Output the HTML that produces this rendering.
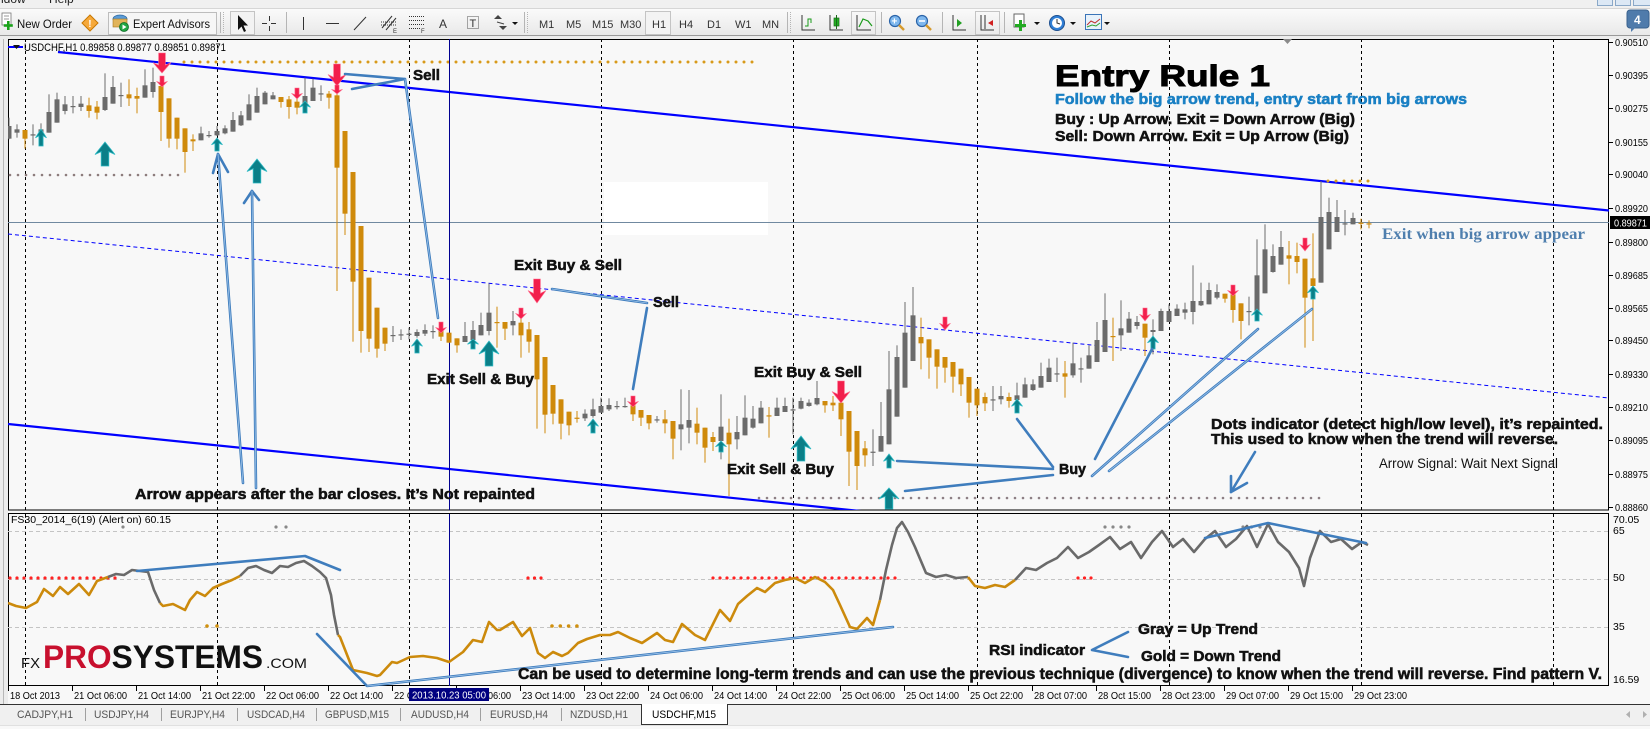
<!DOCTYPE html>
<html><head><meta charset="utf-8"><title>USDCHF H1 - Entry Rule 1</title>
<style>
html,body{margin:0;padding:0;background:#f8f8f8;}
body{width:1650px;height:729px;overflow:hidden;}
svg{display:block;}
text{font-family:"Liberation Sans",Arial,sans-serif;}
.ann{font-weight:bold;fill:#111;stroke:#111;stroke-width:0.55px;font-size:15px;}
.ax{font-size:10.5px;fill:#000;}
.tf{font-size:11px;fill:#333;}
.tab{font-size:11px;fill:#555;}
.co{stroke:#3f7dbd;stroke-width:2.6;fill:none;stroke-linecap:round;stroke-linejoin:round;}
.coh{stroke:#9cc3ea;stroke-width:0.8;fill:none;stroke-linecap:round;}
.grid{stroke:#000;stroke-width:1;stroke-dasharray:3 3;}
</style></head>
<body>
<svg id="s" width="1650" height="729" viewBox="0 0 1650 729" xmlns="http://www.w3.org/2000/svg">
<defs>
<linearGradient id="tb" x1="0" y1="0" x2="0" y2="1"><stop offset="0" stop-color="#fbfbfb"/><stop offset="1" stop-color="#e9e9e9"/></linearGradient>
<clipPath id="mainclip"><rect x="8" y="39" width="1601" height="471"/></clipPath>
<clipPath id="indclip"><rect x="8" y="514" width="1601" height="172"/></clipPath>
</defs>

<!-- ===== top menu strip + toolbar ===== -->
<rect x="0" y="0" width="1650" height="8" fill="#f0f0f0"/>
<text x="-3" y="3" font-size="12" fill="#222">ndow</text>
<text x="49" y="3" font-size="12" fill="#222">Help</text>
<rect x="0" y="8" width="1650" height="27" fill="url(#tb)"/>
<line x1="0" y1="8.5" x2="1650" y2="8.5" stroke="#d6d6d6"/>
<line x1="0" y1="35.5" x2="1650" y2="35.5" stroke="#9a9a9a"/>
<rect x="0" y="36" width="1650" height="3" fill="#ececec"/>

<!-- New Order -->
<rect x="2" y="13" width="9" height="12" fill="#fff" stroke="#777" stroke-width="0.8"/>
<line x1="4" y1="16" x2="9" y2="16" stroke="#999"/><line x1="4" y1="19" x2="9" y2="19" stroke="#999"/>
<rect x="7" y="21" width="2.6" height="9" fill="#1aa31a"/><rect x="3.8" y="24.2" width="9" height="2.6" fill="#1aa31a"/>
<text x="17" y="28" font-size="12" fill="#111" textLength="55" lengthAdjust="spacingAndGlyphs">New Order</text>
<polygon points="90,15 98,23 90,31 82,23" fill="#f6a93b" stroke="#c97800" stroke-width="1"/>
<text x="88.3" y="27" font-size="10" font-weight="bold" fill="#fff">!</text>
<!-- Expert Advisors -->
<rect x="108.5" y="12.5" width="108" height="22" fill="#f6f6f6" stroke="#bdbdbd"/>
<ellipse cx="120" cy="19" rx="7" ry="4" fill="#5b9bd5" stroke="#2d6aa5" stroke-width="0.8"/>
<rect x="113" y="19" width="14" height="8" fill="#e1b45a" stroke="#a77a20" stroke-width="0.6"/>
<circle cx="124" cy="27" r="4.5" fill="#21a542" stroke="#0d6d27" stroke-width="0.8"/>
<polygon points="122.5,24.5 122.5,29.5 126.5,27" fill="#fff"/>
<text x="133" y="28" font-size="12" fill="#111" textLength="77" lengthAdjust="spacingAndGlyphs">Expert Advisors</text>
<!-- separators -->
<g stroke="#b5b5b5"><line x1="220.5" y1="12" x2="220.5" y2="33"/><line x1="223.5" y1="12" x2="223.5" y2="33" stroke-dasharray="1 1"/>
<line x1="286.5" y1="12" x2="286.5" y2="33"/>
<line x1="524.5" y1="12" x2="524.5" y2="33"/><line x1="527.5" y1="12" x2="527.5" y2="33" stroke-dasharray="1 1"/>
<line x1="787.5" y1="12" x2="787.5" y2="33"/><line x1="790.5" y1="12" x2="790.5" y2="33" stroke-dasharray="1 1"/>
<line x1="881.5" y1="12" x2="881.5" y2="33"/><line x1="942.5" y1="12" x2="942.5" y2="33"/><line x1="1004.5" y1="12" x2="1004.5" y2="33"/></g>
<!-- cursor / drawing tools -->
<rect x="230.5" y="11.5" width="24" height="23" fill="#f3f3f3" stroke="#c4c4c4"/>
<polygon points="238,15 238,30 241.5,26.5 244,32 246,31 243.5,25.5 248,25.5" fill="#111"/>
<g stroke="#333" stroke-width="1"><line x1="262" y1="23.5" x2="267" y2="23.5"/><line x1="271" y1="23.5" x2="276" y2="23.5"/><line x1="269.5" y1="16" x2="269.5" y2="21"/><line x1="269.5" y1="26" x2="269.5" y2="31"/>
<line x1="303.5" y1="17" x2="303.5" y2="30"/><line x1="326" y1="23.5" x2="339" y2="23.5"/><line x1="354" y1="30" x2="366" y2="17"/>
<line x1="382" y1="28" x2="392" y2="16" /><line x1="386" y1="30" x2="396" y2="18"/><line x1="381" y1="22" x2="396" y2="22" stroke-dasharray="1 1"/><line x1="381" y1="25" x2="396" y2="25" stroke-dasharray="1 1"/>
<line x1="409" y1="16.5" x2="425" y2="16.5" stroke-dasharray="1 1"/><line x1="409" y1="20.5" x2="425" y2="20.5" stroke-dasharray="1 1"/><line x1="409" y1="24.5" x2="425" y2="24.5" stroke-dasharray="1 1"/><line x1="409" y1="28.5" x2="420" y2="28.5" stroke-dasharray="1 1"/></g>
<text x="393" y="33" font-size="6" fill="#333">E</text><text x="421" y="33" font-size="6" fill="#333">F</text>
<text x="439" y="28" font-size="12" fill="#333">A</text>
<rect x="467.5" y="16.5" width="11" height="12" fill="none" stroke="#555" stroke-dasharray="1 1"/><text x="469.5" y="27" font-size="11" fill="#333">T</text>
<polygon points="494,19 498,15 502,19" fill="#444"/><polygon points="499,26 503,30 507,26" fill="#444"/><line x1="497" y1="22" x2="504" y2="24" stroke="#444"/>
<polygon points="512,22 518,22 515,25" fill="#111"/>
<!-- timeframes -->
<text class="tf" x="539" y="28">M1</text><text class="tf" x="566" y="28">M5</text><text class="tf" x="592" y="28">M15</text><text class="tf" x="620" y="28">M30</text>
<rect x="645.5" y="11.5" width="25" height="23" fill="#f3f3f3" stroke="#c4c4c4"/>
<text class="tf" x="652" y="28">H1</text><text class="tf" x="679" y="28">H4</text><text class="tf" x="707" y="28">D1</text><text class="tf" x="735" y="28">W1</text><text class="tf" x="762" y="28">MN</text>
<!-- chart type icons -->
<g stroke="#333" stroke-width="1" fill="none"><polyline points="802,15 802,30 815,30"/><polyline points="830,15 830,30 843,30"/><polyline points="857,15 857,30 871,30"/></g>
<polyline points="805,26 808,26 808,19 811,19 811,23" stroke="#1a9a1a" fill="none"/>
<rect x="834" y="18" width="5" height="8" fill="#22b022" stroke="#1a6a1a" stroke-width="0.7"/><line x1="836.5" y1="15" x2="836.5" y2="29" stroke="#1a6a1a"/>
<rect x="851.5" y="11.5" width="24" height="23" fill="none" stroke="#c4c4c4"/>
<polyline points="859,27 863,19 868,21 872,26" stroke="#1a9a1a" fill="none" stroke-width="1.2"/>
<!-- zoom -->
<circle cx="895" cy="21" r="5.5" fill="#7fb8ee" stroke="#2a63a8" stroke-width="1.2"/><line x1="899" y1="25" x2="904" y2="30" stroke="#d69a2c" stroke-width="2.5"/><text x="891.5" y="24.5" font-size="10" font-weight="bold" fill="#fff">+</text>
<circle cx="922" cy="21" r="5.5" fill="#7fb8ee" stroke="#2a63a8" stroke-width="1.2"/><line x1="926" y1="25" x2="931" y2="30" stroke="#d69a2c" stroke-width="2.5"/><line x1="919" y1="21" x2="925" y2="21" stroke="#fff" stroke-width="1.6"/>
<g stroke="#333" fill="none"><polyline points="953,15 953,30 966,30"/><polyline points="981,15 981,30 994,30"/></g>
<polygon points="957,19 962,23 957,27" fill="#22a022"/>
<rect x="975.5" y="11.5" width="24" height="23" fill="none" stroke="#c4c4c4"/>
<line x1="985" y1="15" x2="985" y2="29" stroke="#333"/><polygon points="993,20 988,23 993,26" fill="#d02020"/>
<rect x="1014" y="14" width="10" height="13" fill="#fff" stroke="#666"/><rect x="1019" y="20" width="3" height="11" fill="#22aa22"/><rect x="1015" y="24" width="11" height="3" fill="#22aa22"/>
<polygon points="1034,22 1040,22 1037,25" fill="#111"/>
<circle cx="1057" cy="23" r="7.5" fill="#2f7fd6" stroke="#1d4f8f"/><circle cx="1057" cy="23" r="5" fill="#fff"/><polyline points="1057,19 1057,23 1060,24" stroke="#333" fill="none"/>
<polygon points="1070,22 1076,22 1073,25" fill="#111"/>
<rect x="1085.5" y="14.5" width="16" height="15" fill="#e8f2fb" stroke="#3a74b8"/><polyline points="1087,25 1091,21 1095,23 1100,19" stroke="#c03030" fill="none"/><polyline points="1087,27 1092,25 1096,26 1100,23" stroke="#30a030" fill="none"/>
<polygon points="1104,22 1110,22 1107,25" fill="#111"/>
<!-- top right -->
<rect x="1597.5" y="-3.5" width="15" height="9" fill="#dce8f5" stroke="#8aa8c8"/><rect x="1615.5" y="-3.5" width="15" height="9" fill="#dce8f5" stroke="#8aa8c8"/><rect x="1633.5" y="-3.5" width="17" height="9" fill="#dce8f5" stroke="#8aa8c8"/>
<rect x="1627" y="10" width="22" height="18" rx="3" fill="#4f7bab" stroke="#3a628e"/>
<polygon points="1631,27 1631,32 1636,27" fill="#4f7bab"/>
<text x="1634" y="24" font-size="12" font-weight="bold" fill="#fff">4</text>

<!-- ===== window frame ===== -->
<rect x="0" y="39" width="8" height="667" fill="#ececec"/>
<line x1="3.5" y1="39" x2="3.5" y2="704" stroke="#b8b8b8"/>

<!-- ===== main chart ===== -->
<rect x="8.5" y="39.5" width="1600" height="470.5" fill="#f8f8f8" stroke="#000"/>
<rect x="8.5" y="513.5" width="1600" height="172" fill="#f8f8f8" stroke="#000"/>

<g clip-path="url(#mainclip)">
<g class="grid">
<line x1="25.5" y1="39" x2="25.5" y2="510"/><line x1="217.5" y1="39" x2="217.5" y2="510"/><line x1="409.5" y1="39" x2="409.5" y2="510"/><line x1="601.5" y1="39" x2="601.5" y2="510"/><line x1="793.5" y1="39" x2="793.5" y2="510"/><line x1="977.5" y1="39" x2="977.5" y2="510"/><line x1="1169.5" y1="39" x2="1169.5" y2="510"/><line x1="1361.5" y1="39" x2="1361.5" y2="510"/><line x1="1553.5" y1="39" x2="1553.5" y2="510"/>
</g>
<!-- channel -->
<line x1="58" y1="52" x2="1609" y2="210.5" stroke="#0000ff" stroke-width="2.2"/>
<line x1="8" y1="424" x2="870" y2="512" stroke="#0000ff" stroke-width="2.2"/>
<line x1="8" y1="234" x2="1609" y2="398" stroke="#0000ff" stroke-width="1" stroke-dasharray="4 3"/>
<line x1="8" y1="47" x2="23" y2="47" stroke="#0000ff" stroke-width="2"/>
<polygon points="13,45 20,45 16.5,49" fill="#111"/>
<!-- dotted levels -->
<line x1="184" y1="62" x2="756" y2="62" stroke="#d89a1a" stroke-width="3" stroke-dasharray="0 8" stroke-linecap="round"/>
<line x1="10" y1="175" x2="180" y2="175" stroke="#8d7c7c" stroke-width="2.6" stroke-dasharray="0 8" stroke-linecap="round"/>
<line x1="759" y1="498" x2="1323" y2="498" stroke="#8d7f84" stroke-width="2.6" stroke-dasharray="0 8" stroke-linecap="round"/>
<line x1="1328" y1="181" x2="1371" y2="181" stroke="#d89a1a" stroke-width="3" stroke-dasharray="0 8" stroke-linecap="round"/>
<!-- white box -->
<rect x="604" y="182" width="164" height="53" fill="#ffffff"/>
<!-- current price line -->
<line x1="8" y1="222.5" x2="1609" y2="222.5" stroke="#7089a0" stroke-width="1"/>
<!-- navy vertical -->
<line x1="449.5" y1="39" x2="449.5" y2="510" stroke="#000090" stroke-width="1"/>
<g id="candles"></g>
<g id="arrows"></g>
<polygon points="1283,39 1292,39 1287.5,44" fill="#8a8a8a"/>
</g>

<!-- title -->
<text x="24" y="51" font-size="11" fill="#000" textLength="202" lengthAdjust="spacingAndGlyphs">USDCHF,H1  0.89858 0.89877 0.89851 0.89871</text>

<!-- callouts main -->
<g>
<polyline class="co" points="218,154 243,483"/><polyline class="co" points="213,173 218,154 228,172"/>
<polyline class="co" points="252,191 256,488"/><polyline class="co" points="244,203 252,191 259,200"/>
<polyline class="co" points="345,74 405,79 352,89"/><polyline class="co" points="405,79 438,318"/>
<polyline class="co" points="552,289 647,303"/><polyline class="co" points="647,308 633,389"/>
<polyline class="co" points="897,461 1053,469"/><polyline class="co" points="905,491 1053,475"/><polyline class="co" points="1017,419 1053,467"/>
<polyline class="co" points="1095,459 1152,349"/><polyline class="co" points="1092,476 1258,329"/><polyline class="co" points="1109,471 1312,309"/>
<polyline class="co" points="1255,452 1231,492"/><polyline class="co" points="1231,476 1231,492 1247,483"/>
</g>
<g>
<polyline class="coh" points="218,154 243,483"/><polyline class="coh" points="252,191 256,488"/><polyline class="coh" points="405,79 438,318"/>
<polyline class="coh" points="552,289 647,303"/><polyline class="coh" points="1092,476 1258,329"/><polyline class="coh" points="1109,471 1312,309"/>
</g>

<!-- annotation texts main -->
<text class="ann" x="413" y="80" textLength="27" lengthAdjust="spacingAndGlyphs">Sell</text>
<text class="ann" x="514" y="270" textLength="108" lengthAdjust="spacingAndGlyphs">Exit Buy &amp; Sell</text>
<text class="ann" x="653" y="307" textLength="26" lengthAdjust="spacingAndGlyphs">Sell</text>
<text class="ann" x="427" y="384" textLength="107" lengthAdjust="spacingAndGlyphs">Exit Sell &amp; Buy</text>
<text class="ann" x="754" y="377" textLength="108" lengthAdjust="spacingAndGlyphs">Exit Buy &amp; Sell</text>
<text class="ann" x="727" y="474" textLength="107" lengthAdjust="spacingAndGlyphs">Exit Sell &amp; Buy</text>
<text class="ann" x="135" y="499" textLength="400" lengthAdjust="spacingAndGlyphs">Arrow appears after the bar closes. It’s Not repainted</text>
<text class="ann" x="1059" y="474" textLength="27" lengthAdjust="spacingAndGlyphs">Buy</text>
<text x="1055" y="86" font-size="30" font-weight="bold" fill="#000" stroke="#000" stroke-width="1" textLength="215" lengthAdjust="spacingAndGlyphs">Entry Rule  1</text>
<text class="ann" x="1055" y="104" style="fill:#1a80c4;stroke:#1a80c4" textLength="412" lengthAdjust="spacingAndGlyphs">Follow the big arrow trend, entry start from big arrows</text>
<text class="ann" x="1055" y="124" textLength="300" lengthAdjust="spacingAndGlyphs">Buy : Up Arrow. Exit = Down Arrow (Big)</text>
<text class="ann" x="1055" y="141" textLength="294" lengthAdjust="spacingAndGlyphs">Sell: Down Arrow. Exit = Up Arrow (Big)</text>
<text x="1382" y="239" font-family="Liberation Serif,serif" font-size="16" font-weight="bold" fill="#4f7fae" textLength="203" lengthAdjust="spacingAndGlyphs" style="font-family:'Liberation Serif',serif">Exit when big arrow appear</text>
<text class="ann" x="1211" y="429" textLength="392" lengthAdjust="spacingAndGlyphs">Dots indicator (detect high/low level), it’s repainted.</text>
<text class="ann" x="1211" y="444" textLength="347" lengthAdjust="spacingAndGlyphs">This used to know when the trend will reverse.</text>
<text x="1379" y="468" font-size="13.5" fill="#111" textLength="179" lengthAdjust="spacingAndGlyphs">Arrow Signal: Wait Next Signal</text>

<!-- price axis -->
<g class="ax">
<text x="1615" y="46" textLength="33" lengthAdjust="spacingAndGlyphs">0.90510</text>
<text x="1615" y="79" textLength="33" lengthAdjust="spacingAndGlyphs">0.90395</text>
<text x="1615" y="112" textLength="33" lengthAdjust="spacingAndGlyphs">0.90275</text>
<text x="1615" y="146" textLength="33" lengthAdjust="spacingAndGlyphs">0.90155</text>
<text x="1615" y="178" textLength="33" lengthAdjust="spacingAndGlyphs">0.90040</text>
<text x="1615" y="212" textLength="33" lengthAdjust="spacingAndGlyphs">0.89920</text>
<text x="1615" y="246" textLength="33" lengthAdjust="spacingAndGlyphs">0.89800</text>
<text x="1615" y="279" textLength="33" lengthAdjust="spacingAndGlyphs">0.89685</text>
<text x="1615" y="312" textLength="33" lengthAdjust="spacingAndGlyphs">0.89565</text>
<text x="1615" y="344" textLength="33" lengthAdjust="spacingAndGlyphs">0.89450</text>
<text x="1615" y="378" textLength="33" lengthAdjust="spacingAndGlyphs">0.89330</text>
<text x="1615" y="411" textLength="33" lengthAdjust="spacingAndGlyphs">0.89210</text>
<text x="1615" y="444" textLength="33" lengthAdjust="spacingAndGlyphs">0.89095</text>
<text x="1615" y="478" textLength="33" lengthAdjust="spacingAndGlyphs">0.88975</text>
<text x="1615" y="511" textLength="33" lengthAdjust="spacingAndGlyphs">0.88860</text>
</g>
<g stroke="#000"><line x1="1609" y1="42.5" x2="1613" y2="42.5"/><line x1="1609" y1="75.5" x2="1613" y2="75.5"/><line x1="1609" y1="108.5" x2="1613" y2="108.5"/><line x1="1609" y1="142.5" x2="1613" y2="142.5"/><line x1="1609" y1="174.5" x2="1613" y2="174.5"/><line x1="1609" y1="208.5" x2="1613" y2="208.5"/><line x1="1609" y1="242.5" x2="1613" y2="242.5"/><line x1="1609" y1="275.5" x2="1613" y2="275.5"/><line x1="1609" y1="308.5" x2="1613" y2="308.5"/><line x1="1609" y1="340.5" x2="1613" y2="340.5"/><line x1="1609" y1="374.5" x2="1613" y2="374.5"/><line x1="1609" y1="407.5" x2="1613" y2="407.5"/><line x1="1609" y1="440.5" x2="1613" y2="440.5"/><line x1="1609" y1="474.5" x2="1613" y2="474.5"/><line x1="1609" y1="507.5" x2="1613" y2="507.5"/></g>
<rect x="1610" y="216" width="40" height="13" fill="#000"/>
<text x="1614" y="226.5" font-size="10.5" fill="#fff" textLength="33" lengthAdjust="spacingAndGlyphs">0.89871</text>

<!-- ===== indicator panel ===== -->
<g clip-path="url(#indclip)">
<g stroke="#c4c4c4" stroke-dasharray="4 3"><line x1="8" y1="531.5" x2="1609" y2="531.5"/><line x1="8" y1="579.5" x2="1609" y2="579.5"/><line x1="8" y1="627.5" x2="1609" y2="627.5"/></g>
<g class="grid">
<line x1="25.5" y1="514" x2="25.5" y2="686"/><line x1="217.5" y1="514" x2="217.5" y2="686"/><line x1="409.5" y1="514" x2="409.5" y2="686"/><line x1="601.5" y1="514" x2="601.5" y2="686"/><line x1="793.5" y1="514" x2="793.5" y2="686"/><line x1="977.5" y1="514" x2="977.5" y2="686"/><line x1="1169.5" y1="514" x2="1169.5" y2="686"/><line x1="1361.5" y1="514" x2="1361.5" y2="686"/><line x1="1553.5" y1="514" x2="1553.5" y2="686"/>
</g>
<line x1="449.5" y1="514" x2="449.5" y2="686" stroke="#000090"/>
<!-- red dots at 50 -->
<g id="dots"></g>
<!-- RSI line -->
<g fill="none" stroke-width="2.6" stroke-linejoin="round">
<polyline stroke="#cc8a0c" points="8,603 16,606 26,608 37,602 44,589 53,596 60,587 68,594 79,584 89,595 97,581 108,577"/>
<polyline stroke="#6a6a6a" points="108,577 116,574 124,575 132,570 140,571 148,572 154,590 160,603"/>
<polyline stroke="#cc8a0c" points="160,603 163,606 173,604 185,610 190,600 197,592 205,596 213,588 222,584 232,580 240,576"/>
<polyline stroke="#6a6a6a" points="240,576 248,568 256,566 264,570 272,573 280,566 288,567 296,563 304,561 312,566 320,572 326,578 331,595 334,615 338,635"/>
<polyline stroke="#cc8a0c" points="338,635 340,637 353,670 367,673 377,676 380,675 392,662 397,663 410,657 423,656 437,658 449,662 463,652 473,640 482,642 489,622 497,630 500,630 513,622 522,636 530,628 538,653 545,658 553,652 562,656 568,653 578,643 587,639 600,635 610,635 618,632 630,638 642,643 657,633 665,640 673,642 682,624 695,635 705,640 720,610 730,621 738,604 747,596 757,588 765,592 775,583 785,580 795,578 805,583 815,577 825,582 833,590 840,605 850,627 857,629 867,618 873,625 880,600"/>
<polyline stroke="#6a6a6a" points="880,600 886,570 892,545 897,528 902,522 908,532 915,547 926,573 936,577 946,575 956,578 968,577"/>
<polyline stroke="#cc8a0c" points="968,577 975,586 985,588 995,585 1005,587 1015,580"/>
<polyline stroke="#6a6a6a" points="1015,580 1026,568 1036,570 1047,563 1057,558 1068,547 1078,558 1089,552 1099,545 1110,537 1120,549 1131,542 1141,558 1152,542 1162,531 1173,547 1183,539 1194,552 1205,539 1215,531 1226,547 1236,539 1247,526 1257,547 1268,524 1278,542 1289,552 1299,568 1304,586 1310,558 1320,531 1331,542 1341,539 1352,549 1362,542 1368,545"/>
</g>
<!-- logo -->
<text x="21" y="668" font-size="15" fill="#111" textLength="19" lengthAdjust="spacingAndGlyphs">FX</text>
<text x="43" y="668" font-size="32" font-weight="bold" textLength="220" lengthAdjust="spacingAndGlyphs"><tspan fill="#c8102e">PRO</tspan><tspan fill="#111">SYSTEMS</tspan></text>
<text x="266" y="668" font-size="14" fill="#111" textLength="41" lengthAdjust="spacingAndGlyphs">.COM</text>
</g>
<text x="11" y="523" font-size="10" fill="#000" textLength="160" lengthAdjust="spacingAndGlyphs">FS30_2014_6(19) (Alert on) 60.15</text>
<!-- indicator callouts -->
<polyline class="co" points="137,571 305,556 340,570"/>
<polyline class="co" points="317,634 367,686 893,627"/>
<polyline class="co" points="1205,538 1268,523 1366,543"/>
<polyline class="co" points="1128,632 1092,650 1128,657"/>
<polyline class="coh" points="367,686 893,627"/>
<text class="ann" x="989" y="655" textLength="96" lengthAdjust="spacingAndGlyphs">RSI indicator</text>
<text class="ann" x="1138" y="634" textLength="120" lengthAdjust="spacingAndGlyphs">Gray = Up Trend</text>
<text class="ann" x="1141" y="661" textLength="140" lengthAdjust="spacingAndGlyphs">Gold = Down Trend</text>
<text class="ann" x="518" y="679" style="font-size:16px" textLength="1084" lengthAdjust="spacingAndGlyphs">Can be used to determine long-term trends and can use the previous technique (divergence) to know when the trend will reverse. Find pattern V.</text>
<!-- indicator axis -->
<g class="ax"><text x="1613" y="523">70.05</text><text x="1613" y="534">65</text><text x="1613" y="581">50</text><text x="1613" y="630">35</text><text x="1613" y="683">16.59</text></g>

<!-- ===== time axis ===== -->
<g id="tticks" stroke="#000"></g>
<g class="ax">
<text x="10" y="699" textLength="50" lengthAdjust="spacingAndGlyphs">18 Oct 2013</text>
<text x="74" y="699" textLength="53" lengthAdjust="spacingAndGlyphs">21 Oct 06:00</text>
<text x="138" y="699" textLength="53" lengthAdjust="spacingAndGlyphs">21 Oct 14:00</text>
<text x="202" y="699" textLength="53" lengthAdjust="spacingAndGlyphs">21 Oct 22:00</text>
<text x="266" y="699" textLength="53" lengthAdjust="spacingAndGlyphs">22 Oct 06:00</text>
<text x="330" y="699" textLength="53" lengthAdjust="spacingAndGlyphs">22 Oct 14:00</text>
<text x="394" y="699" textLength="53" lengthAdjust="spacingAndGlyphs">22 Oct 22:00</text>
<text x="458" y="699" textLength="53" lengthAdjust="spacingAndGlyphs">23 Oct 06:00</text>
<text x="522" y="699" textLength="53" lengthAdjust="spacingAndGlyphs">23 Oct 14:00</text>
<text x="586" y="699" textLength="53" lengthAdjust="spacingAndGlyphs">23 Oct 22:00</text>
<text x="650" y="699" textLength="53" lengthAdjust="spacingAndGlyphs">24 Oct 06:00</text>
<text x="714" y="699" textLength="53" lengthAdjust="spacingAndGlyphs">24 Oct 14:00</text>
<text x="778" y="699" textLength="53" lengthAdjust="spacingAndGlyphs">24 Oct 22:00</text>
<text x="842" y="699" textLength="53" lengthAdjust="spacingAndGlyphs">25 Oct 06:00</text>
<text x="906" y="699" textLength="53" lengthAdjust="spacingAndGlyphs">25 Oct 14:00</text>
<text x="970" y="699" textLength="53" lengthAdjust="spacingAndGlyphs">25 Oct 22:00</text>
<text x="1034" y="699" textLength="53" lengthAdjust="spacingAndGlyphs">28 Oct 07:00</text>
<text x="1098" y="699" textLength="53" lengthAdjust="spacingAndGlyphs">28 Oct 15:00</text>
<text x="1162" y="699" textLength="53" lengthAdjust="spacingAndGlyphs">28 Oct 23:00</text>
<text x="1226" y="699" textLength="53" lengthAdjust="spacingAndGlyphs">29 Oct 07:00</text>
<text x="1290" y="699" textLength="53" lengthAdjust="spacingAndGlyphs">29 Oct 15:00</text>
<text x="1354" y="699" textLength="53" lengthAdjust="spacingAndGlyphs">29 Oct 23:00</text>
</g>
<rect x="409" y="688" width="80" height="13" fill="#000080"/>
<text x="412" y="698.5" font-size="10.5" fill="#fff" textLength="74" lengthAdjust="spacingAndGlyphs">2013.10.23 05:00</text>

<!-- ===== tabs ===== -->
<rect x="0" y="704" width="1650" height="22" fill="#f0f0f0"/>
<line x1="0" y1="704.5" x2="1650" y2="704.5" stroke="#333"/>
<rect x="0" y="726" width="1650" height="3" fill="#f8f8f8"/>
<line x1="0" y1="725.5" x2="1650" y2="725.5" stroke="#e0e0e0"/>
<rect x="641.5" y="704.5" width="86" height="20" fill="#ffffff" stroke="#333"/>
<line x1="642" y1="704.5" x2="727" y2="704.5" stroke="#fff"/>
<g stroke="#a0a0a0"><line x1="85.5" y1="708" x2="85.5" y2="721"/><line x1="161.5" y1="708" x2="161.5" y2="721"/><line x1="237.5" y1="708" x2="237.5" y2="721"/><line x1="316.5" y1="708" x2="316.5" y2="721"/><line x1="400.5" y1="708" x2="400.5" y2="721"/><line x1="480.5" y1="708" x2="480.5" y2="721"/><line x1="561.5" y1="708" x2="561.5" y2="721"/></g>
<g class="tab">
<text x="17" y="718" textLength="56" lengthAdjust="spacingAndGlyphs">CADJPY,H1</text>
<text x="94" y="718" textLength="55" lengthAdjust="spacingAndGlyphs">USDJPY,H4</text>
<text x="170" y="718" textLength="55" lengthAdjust="spacingAndGlyphs">EURJPY,H4</text>
<text x="247" y="718" textLength="58" lengthAdjust="spacingAndGlyphs">USDCAD,H4</text>
<text x="325" y="718" textLength="64" lengthAdjust="spacingAndGlyphs">GBPUSD,M15</text>
<text x="411" y="718" textLength="58" lengthAdjust="spacingAndGlyphs">AUDUSD,H4</text>
<text x="490" y="718" textLength="58" lengthAdjust="spacingAndGlyphs">EURUSD,H4</text>
<text x="570" y="718" textLength="58" lengthAdjust="spacingAndGlyphs">NZDUSD,H1</text>
</g>
<text x="652" y="718" font-size="11" fill="#000" textLength="64" lengthAdjust="spacingAndGlyphs">USDCHF,M15</text>
<polygon points="1630,711 1630,718 1626,714.5" fill="#b0b0b0"/><polygon points="1643,711 1643,718 1647,714.5" fill="#b0b0b0"/>
</svg>

<script>
(function(){
var NS="http://www.w3.org/2000/svg";
function el(n,a,p){var e=document.createElementNS(NS,n);for(var k in a)e.setAttribute(k,a[k]);p.appendChild(e);return e;}
var C="g 270 308 245 310|g 280 290 265 305|o 282 308 282 338|g 295 296 265 328|g 280 300 262 300|g 228 290 175 290|g 190 260 170 260|g 205 225 180 235|g 210 211 180 232|g 203 213 180 225|o 208 225 185 245|o 212 230 195 250|g 183 222 112 225|g 153 203 120 203|g 177 178 140 213|o 175 187 130 210|o 180 188 155 232|g 148 185 100 185|g 138 168 95 185|o 150 228 150 315|o 187 308 187 335|o 245 308 245 340|o 277 348 277 410|o 310 316 295 345|g 292 313 272 313|g 297 298 285 305|g 285 298 270 300|g 277 292 268 295|g 252 287 228 287|g 238 268 225 270|g 205 253 175 253|g 180 230 155 230|g 170 205 165 205|g 178 190 168 190|o 183 198 183 215|o 190 213 180 248|o 197 215 185 235|g 180 213 125 213|g 155 195 128 195|g 172 173 148 195|o 173 185 165 218|o 178 395 135 765|o 285 533 285 597|o 408 737 408 917|o 570 885 570 950|o 725 908 725 948|o 815 938 815 965|o 875 923 875 945|g 897 898 870 918|g 895 896 880 912|g 893 894 875 910|g 888 900 880 905"
+"|g 882 893 865 900|g 885 886 868 908|o 885 902 885 915|o 890 920 890 920|o 907 928 907 950|g 900 918 858 918|g 882 912 855 912|g 867 898 830 898|g 830 885 742 898|o 858 859 812 935|o 858 878 858 912|g 855 868 825 898|o 860 898 825 965|o 880 917 858 950|o 897 1030 897 1178|o 963 1136 963 1192|o 1047 1133 1047 1165|o 1090 1163 1090 1210|o 1127 1168 1127 1198|o 1145 1146 1125 1160|g 1133 1147 1120 1155|g 1120 1140 1088 1145|g 1110 1130 1085 1130|g 1107 1120 1087 1125|g 1110 1111 1095 1120|g 1110 1111 1085 1115|o 1108 1135 1108 1155|o 1122 1145 1122 1170|o 1137 1162 1137 1180|g 1150 1151 1140 1160|o 1150 1162 1122 1192|o 1155 1208 1155 1270|g 1165 1180 1060 1243|g 1152 1175 1062 1222|o 1163 1190 1115 1225|o 1175 1235 1175 1280|o 1203 1218 1188 1245|g 1172 1215 1075 1270|o 1190 1225 1148 1380|g 1188 1210 1140 1240|g 1145 1198 1078 1198|g 1148 1175 1110 1178|g 1115 1162 1095 1162|o 1138 1139 1113 1205|g 1115 1140 1085 1140|g 1110 1128 1085 1128|g 1120 1121 1085 1195|g 1095 1118 1085 1120|g 1100 1110 1090 1112|g 1086 1105 1035 1108|o 1095 1108 1095 1130"
+"|o 1100 1108 1080 1125|o 1100 1150 1100 1200|o 1125 1247 1125 1350|o 1185 1290 1185 1362|o 1237 1258 1215 1292|g 1247 1248 1180 1290|g 1200 1247 1098 1247|g 1060 1225 945 1225|g 963 1142 928 1142|g 890 1055 798 1055|g 838 975 753 975|o 903 922 845 1000|o 910 965 910 1028|o 940 992 940 1058|o 963 995 963 1040|o 978 1022 978 1070|o 998 1045 998 1080|o 1023 1100 1023 1145|o 1058 1108 1058 1140|o 1083 1102 1070 1125|g 1090 1091 1050 1125|g 1080 1090 1050 1105|o 1083 1095 1070 1115|g 1078 1092 1040 1092|g 1045 1085 1025 1085|g 1045 1062 1030 1065|g 1020 1055 980 1055|g 995 1038 968 1038|g 1012 1013 965 1038|o 1012 1022 975 1085|g 982 1018 920 1025|g 997 998 965 1040|g 958 998 928 998|g 912 978 858 978|g 852 948 772 948|o 900 901 845 975|g 877 898 793 945|g 848 890 828 890|g 858 870 840 880|o 863 905 863 960|g 882 888 850 955|g 825 885 818 885|g 825 858 805 858|g 818 840 805 840|g 820 830 800 850|g 795 828 688 865|g 795 808 740 810|g 762 805 740 805|g 768 785 745 790|o 773 788 773 800|o 775 822 775 860"
+"|o 802 855 802 910|g 825 826 782 868|g 718 825 610 850|g 640 772 565 772|g 660 708 625 710|g 633 686 585 686|o 658 668 615 745|o 660 678 620 712|o 668 785 668 935|o 727 750 592 915|g 543 740 435 740|g 528 640 485 640|g 543 588 492 588|g 562 563 522 598|g 546 565 530 565|o 560 561 548 580|o 562 563 553 577";
var gC=document.getElementById('candles');
var Y=function(v){return 36+v/3;};
C.split('|').forEach(function(s,i){
  var p=s.trim().split(/\s+/);var col=p[0]=='g'?'#6b6b6b':'#cf8a0b';
  var bt=Y(+p[1]),bb=Y(+p[2]),wt=Y(+p[3]),wb=Y(+p[4]);var x=9+8*i;
  el('rect',{x:x-0.5,y:wt,width:1,height:Math.max(1,wb-wt),fill:col},gC);
  el('rect',{x:x-2.5,y:bt,width:5,height:Math.max(1.2,bb-bt),fill:col},gC);
});
var gA=document.getElementById('arrows');
function up(cx,t,b,w){var h=b-t,sw=w*0.38;return [cx,t, cx+w/2,t+h*0.52, cx+sw/2,t+h*0.4, cx+sw/2,b, cx-sw/2,b, cx-sw/2,t+h*0.4, cx-w/2,t+h*0.52].join(' ');}
function dn(cx,t,b,w){var h=b-t,sw=w*0.38;return [cx,b, cx+w/2,b-h*0.52, cx+sw/2,b-h*0.4, cx+sw/2,t, cx-sw/2,t, cx-sw/2,b-h*0.4, cx-w/2,b-h*0.52].join(' ');}
var T=[[41,129,146,11],[105,142,166,20],[217,138,151,11],[257,159,183,20],[305,101,113,11],[417,339,353,11],[473,339,349,11],[489,341,366,20],[593,419,433,11],[721,441,452,11],[801,436,461,20],[889,454,468,11],[889,488,509,20],[1017,399,413,11],[1153,336,349,11],[1257,309,321,11],[1313,286,299,11]];
T.forEach(function(a){el('polygon',{points:up(a[0],a[1],a[2],a[3]),fill:'#0b7f88',stroke:'#2bb8c2','stroke-width':0.8},gA);});
var R=[[162,53,73,18],[162,76,87,11],[297,88,99,11],[337,64,86,18],[337,85,94,11],[441,322,333,11],[521,308,319,11],[537,279,303,18],[633,396,407,11],[841,381,403,18],[945,317,330,11],[1145,308,321,11],[1233,285,296,11],[1305,238,251,11]];
R.forEach(function(a){el('polygon',{points:dn(a[0],a[1],a[2],a[3]),fill:'#f21f4c',stroke:'#ff6d8d','stroke-width':0.6},gA);});
var gD=document.getElementById('dots');
function dots(x0,x1,step,y,c,r){for(var x=x0;x<=x1;x+=step)el('circle',{cx:x,cy:y,r:r,fill:c},gD);}
dots(10,121,7,578,'#ff2222',1.6);dots(528,547,6.5,578,'#ff2222',1.6);dots(713,900,7,578,'#ff2222',1.6);dots(1078,1097,6.5,578,'#ff2222',1.6);
dots(123,123,8,527,'#888',1.6);dots(276,286,10,527,'#888',1.6);dots(1105,1129,8,527,'#888',1.6);dots(1243,1260,8.5,527,'#888',1.6);
dots(207,217,10,626,'#d0900f',1.8);dots(552,577,8.3,626,'#d0900f',1.8);
var gT=document.getElementById('tticks');
for(var k=0;k<22;k++){var x=8.5+64*k;el('line',{x1:x,y1:686,x2:x,y2:691},gT);}
})();
</script>
</body></html>
